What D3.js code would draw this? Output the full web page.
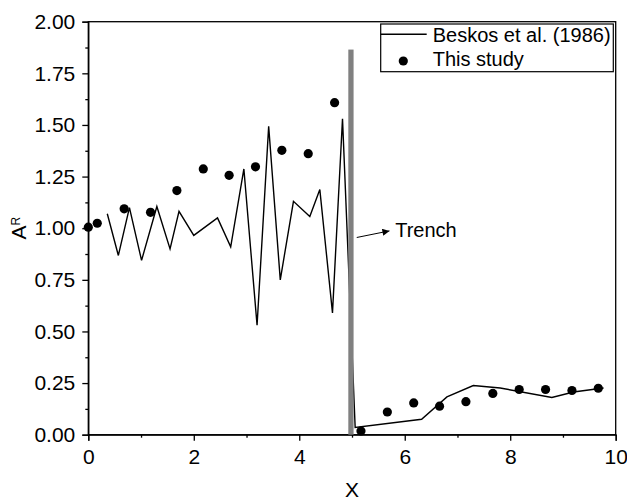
<!DOCTYPE html>
<html><head><meta charset="utf-8">
<script src="https://cdn.jsdelivr.net/npm/d3@7"></script>
<style>
html,body{margin:0;padding:0;background:#fff;}
svg{display:block;font-family:"Liberation Sans",Arial,sans-serif;}
</style></head>
<body>
<svg id="chart" width="627" height="501"></svg>
<script>
// Beskos et al. (1986) line
const beskosX = [0.36,0.57,0.78,1.01,1.30,1.55,1.72,2.00,2.45,2.70,2.95,3.20,3.42,3.64,3.89,4.20,4.39,4.63,4.82,5.06,6.32,6.80,7.30,7.81,8.79,9.20,9.77];
const beskosY = [1.07,0.868,1.10,0.844,1.105,0.90,1.082,0.965,1.05,0.91,1.287,0.53,1.493,0.75,1.13,1.057,1.187,0.59,1.53,0.035,0.075,0.183,0.238,0.226,0.18,0.207,0.226];
// This study points
const studyX = [0.0,0.17,0.68,1.18,1.68,2.18,2.67,3.17,3.67,4.17,4.67,5.17,5.67,6.17,6.66,7.16,7.67,8.17,8.67,9.17,9.67];
const studyY = [1.005,1.024,1.094,1.077,1.182,1.287,1.256,1.297,1.377,1.361,1.608,0.018,0.11,0.154,0.138,0.16,0.20,0.219,0.219,0.214,0.225];
// Trench
const trenchX = [4.93, 5.03];
const trenchTop = 1.865;
const xTicks = [0,2,4,6,8,10];
const yTicks = [0,0.25,0.5,0.75,1.0,1.25,1.5,1.75,2.0];
const legendLabels = ["Beskos et al. (1986)", "This study"];
const annotText = "Trench";

const svg = d3.select("#chart");
const L = 88.3, R = 615.7, T = 21.7, B = 434.7;
const x = d3.scaleLinear().domain([0,10]).range([L,R]);
const y = d3.scaleLinear().domain([0,2]).range([B,T]);
const font = 20;
const tickFont = 21;

// frame
svg.append("rect").attr("x",L).attr("y",T).attr("width",R-L).attr("height",B-T)
  .attr("fill","none").attr("stroke","#000").attr("stroke-width",1.3);

// x axis
svg.append("g").attr("transform",`translate(0,${B})`)
  .call(d3.axisBottom(x).tickValues(xTicks).tickFormat(d3.format("d")).tickSize(6).tickPadding(8));
svg.append("g").attr("transform",`translate(0,${B})`)
  .call(d3.axisBottom(x).tickValues([1,3,5,7,9]).tickFormat("").tickSize(3))
  .call(g=>g.select(".domain").remove());
// y axis
svg.append("g").attr("transform",`translate(${L},0)`)
  .call(d3.axisLeft(y).tickValues(yTicks).tickFormat(d3.format(".2f")).tickSize(6).tickPadding(7));
svg.append("g").attr("transform",`translate(${L},0)`)
  .call(d3.axisLeft(y).tickValues(d3.range(0.125,2,0.25)).tickFormat("").tickSize(3))
  .call(g=>g.select(".domain").remove());
svg.selectAll(".tick text").attr("font-size",tickFont).attr("font-family","Liberation Sans, Arial, sans-serif").attr("fill","#000");
svg.selectAll(".tick line, .domain").attr("stroke","#000").attr("stroke-width",1.3);

// axis titles
svg.append("text").attr("x",x(5)).attr("y",497).attr("text-anchor","middle")
  .attr("font-size",21).text("X");
const yt = svg.append("text").attr("transform",`translate(26,${y(1)}) rotate(-90)`)
  .attr("text-anchor","middle").attr("font-size",21);
yt.append("tspan").text("A");
yt.append("tspan").attr("font-size",12).attr("dy",-6).text("R");

// line
const pts = beskosX.map((d,i)=>[d,beskosY[i]]);
svg.append("path").datum(pts)
  .attr("d",d3.line().x(d=>x(d[0])).y(d=>y(d[1])))
  .attr("fill","none").attr("stroke","#000").attr("stroke-width",1.4).attr("stroke-linejoin","miter");

// trench bar
svg.append("rect").attr("x",x(trenchX[0])).attr("y",y(trenchTop))
  .attr("width",x(trenchX[1])-x(trenchX[0])).attr("height",y(0)-y(trenchTop))
  .attr("fill","#808080");

// dots
svg.append("g").selectAll("circle").data(studyX).join("circle")
  .attr("cx",d=>x(d)).attr("cy",(d,i)=>y(studyY[i])).attr("r",4.6).attr("fill","#000");

// annotation arrow
const defs = svg.append("defs");
defs.append("marker").attr("id","arr").attr("viewBox","0 0 10 10").attr("refX",10).attr("refY",5)
  .attr("markerWidth",9).attr("markerHeight",7).attr("markerUnits","userSpaceOnUse").attr("orient","auto")
  .append("path").attr("d","M0,0 L10,5 L0,10 z").attr("fill","#000");
svg.append("line").attr("x1",x(5.09)).attr("y1",y(0.955)).attr("x2",x(5.71)).attr("y2",y(0.987))
  .attr("stroke","#000").attr("stroke-width",1).attr("marker-end","url(#arr)");
svg.append("text").attr("x",x(5.82)).attr("y",y(0.958)).attr("font-size",font).text(annotText);

// legend
const lg = svg.append("g");
lg.append("rect").attr("x",380.7).attr("y",24).attr("width",232.6).attr("height",47.7)
  .attr("fill","#fff").attr("stroke","#000").attr("stroke-width",1.2);
lg.append("line").attr("x1",380.7).attr("x2",426.7).attr("y1",34.3).attr("y2",34.3)
  .attr("stroke","#000").attr("stroke-width",1.4);
lg.append("text").attr("x",432.7).attr("y",41.7).attr("font-size",font).text(legendLabels[0]);
lg.append("circle").attr("cx",403.3).attr("cy",61).attr("r",4.6).attr("fill","#000");
lg.append("text").attr("x",432.7).attr("y",66).attr("font-size",font).text(legendLabels[1]);
</script>
</body></html>
